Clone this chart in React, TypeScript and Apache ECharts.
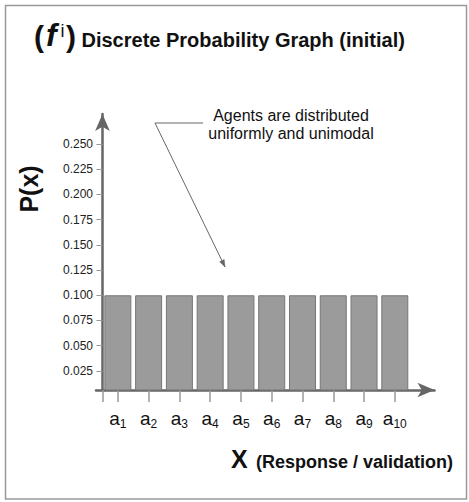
import React, { useEffect, useRef } from "react";
import * as echarts from "echarts";

const categories = ["a1", "a2", "a3", "a4", "a5", "a6", "a7", "a8", "a9", "a10"];
const probabilities = [0.1, 0.1, 0.1, 0.1, 0.1, 0.1, 0.1, 0.1, 0.1, 0.1];
const yTickValues = [0.025, 0.05, 0.075, 0.1, 0.125, 0.15, 0.175, 0.2, 0.225, 0.25];
const titleText = "Discrete Probability Graph (initial)";
const yName = "P(x)";
const xName = "X";
const xSubName = "(Response / validation)";
const noteLines = ["Agents are distributed", "uniformly and unimodal"];

const FONT = "'Liberation Sans', Arial, Helvetica, sans-serif";

function arrowHead(tip: number[], from: number[], len: number, half: number) {
  const dx = tip[0] - from[0];
  const dy = tip[1] - from[1];
  const d = Math.sqrt(dx * dx + dy * dy);
  const ux = dx / d, uy = dy / d;
  const bx = tip[0] - ux * len, by = tip[1] - uy * len;
  return [
    [tip[0], tip[1]],
    [bx - uy * half, by + ux * half],
    [bx + uy * half, by - ux * half],
  ];
}

export default function App() {
  const ref = useRef<HTMLDivElement>(null);
  useEffect(() => {
    const chart = echarts.init(ref.current as HTMLDivElement, null, { renderer: "svg" });
    const barData = probabilities.map((p, i) => [i + 0.5, p]);
    const labelValues = categories.map((_, i) => i + 0.5);
    const xTickValues = [0, ...labelValues];
    const leader = [[203, 123], [155, 123], [225, 267]];
    const head = arrowHead(leader[2], leader[1], 7, 2.5);

    const option: any = {
      animation: false,
      textStyle: { fontFamily: FONT },
      grid: { left: 96, right: 34.5, top: 114, bottom: 112, outerBoundsMode: "none" },
      xAxis: {
        type: "value",
        min: -0.21,
        max: 10.79,
        axisLine: {
          show: true,
          onZero: false,
          lineStyle: { color: "#666", width: 2.5 },
          symbol: ["none", "arrow"],
          symbolSize: [11, 17],
        },
        axisTick: { show: true, customValues: xTickValues, length: 12, lineStyle: { color: "#999", width: 1.5 } },
        axisLabel: {
          customValues: labelValues,
          margin: 16,
          formatter: (v: number) => {
            const c = categories[Math.round(v - 0.5)] || "";
            return `{a|${c[0]}}{s|${c.slice(1)}}`;
          },
          rich: {
            a: { fontSize: 19, lineHeight: 24, color: "#111", fontFamily: FONT },
            s: { fontSize: 12, lineHeight: 12, verticalAlign: "bottom", color: "#111", fontFamily: FONT },
          },
        },
        splitLine: { show: false },
      },
      yAxis: {
        type: "value",
        min: 0.0061,
        max: 0.2797,
        axisLine: {
          show: true,
          onZero: true,
          lineStyle: { color: "#666", width: 2.5 },
          symbol: ["none", "arrow"],
          symbolSize: [11, 17],
        },
        axisTick: { show: true, customValues: yTickValues, length: 6, lineStyle: { color: "#999", width: 1 } },
        axisLabel: {
          customValues: yTickValues,
          margin: 3,
          fontSize: 12,
          color: "#222",
          formatter: (v: number) => v.toFixed(3),
        },
        splitLine: { show: false },
      },
      series: [
        {
          type: "bar",
          data: barData,
          barWidth: 27,
          clip: true,
          itemStyle: { color: "#9b9b9b", borderColor: "#777", borderWidth: 1 },
        },
      ],
      graphic: [
        { type: "rect", shape: { x: 5.5, y: 5.5, width: 461, height: 493.5 }, style: { fill: "none", stroke: "#999", lineWidth: 1.5 }, z: -1 },
        { type: "text", x: 34, y: 36, style: { text: "(", font: `bold 30px ${FONT}`, fill: "#111", verticalAlign: "middle", textVerticalAlign: "middle" } },
        { type: "text", x: 46, y: 35, style: { text: "f", font: `italic bold 32px ${FONT}`, fill: "#111", verticalAlign: "middle", textVerticalAlign: "middle" } },
        { type: "text", x: 60.5, y: 30.7, style: { text: "i", font: `18px ${FONT}`, fill: "#111", verticalAlign: "middle", textVerticalAlign: "middle" } },
        { type: "text", x: 66, y: 36, style: { text: ")", font: `bold 30px ${FONT}`, fill: "#111", verticalAlign: "middle", textVerticalAlign: "middle" } },
        { type: "text", x: 81.5, y: 40, style: { text: titleText, font: `bold 20px ${FONT}`, fill: "#111", verticalAlign: "middle", textVerticalAlign: "middle" } },
        { type: "text", x: 29, y: 189, rotation: Math.PI / 2, style: { text: yName, font: `bold 25px ${FONT}`, fill: "#111", align: "center", textAlign: "center", verticalAlign: "middle", textVerticalAlign: "middle" } },
        { type: "text", x: 231, y: 459, style: { text: xName, font: `bold 25px ${FONT}`, fill: "#111", verticalAlign: "middle", textVerticalAlign: "middle" } },
        { type: "text", x: 256, y: 461.7, style: { text: xSubName, font: `bold 18px ${FONT}`, fill: "#111", verticalAlign: "middle", textVerticalAlign: "middle" } },
        { type: "text", x: 291, y: 115.5, style: { text: noteLines[0], font: `16px ${FONT}`, fill: "#111", align: "center", textAlign: "center", verticalAlign: "middle", textVerticalAlign: "middle" } },
        { type: "text", x: 291, y: 133.5, style: { text: noteLines[1], font: `16px ${FONT}`, fill: "#111", align: "center", textAlign: "center", verticalAlign: "middle", textVerticalAlign: "middle" } },
        { type: "polyline", shape: { points: leader }, style: { fill: "none", stroke: "#666", lineWidth: 1 } },
        { type: "polygon", shape: { points: head }, style: { fill: "#666", stroke: "#666", lineWidth: 0.5 } },
      ],
    };
    chart.setOption(option);
    return () => chart.dispose();
  }, []);
  return <div ref={ref} style={{ position: "absolute", left: 0, top: 0, width: 469, height: 502 }} />;
}
